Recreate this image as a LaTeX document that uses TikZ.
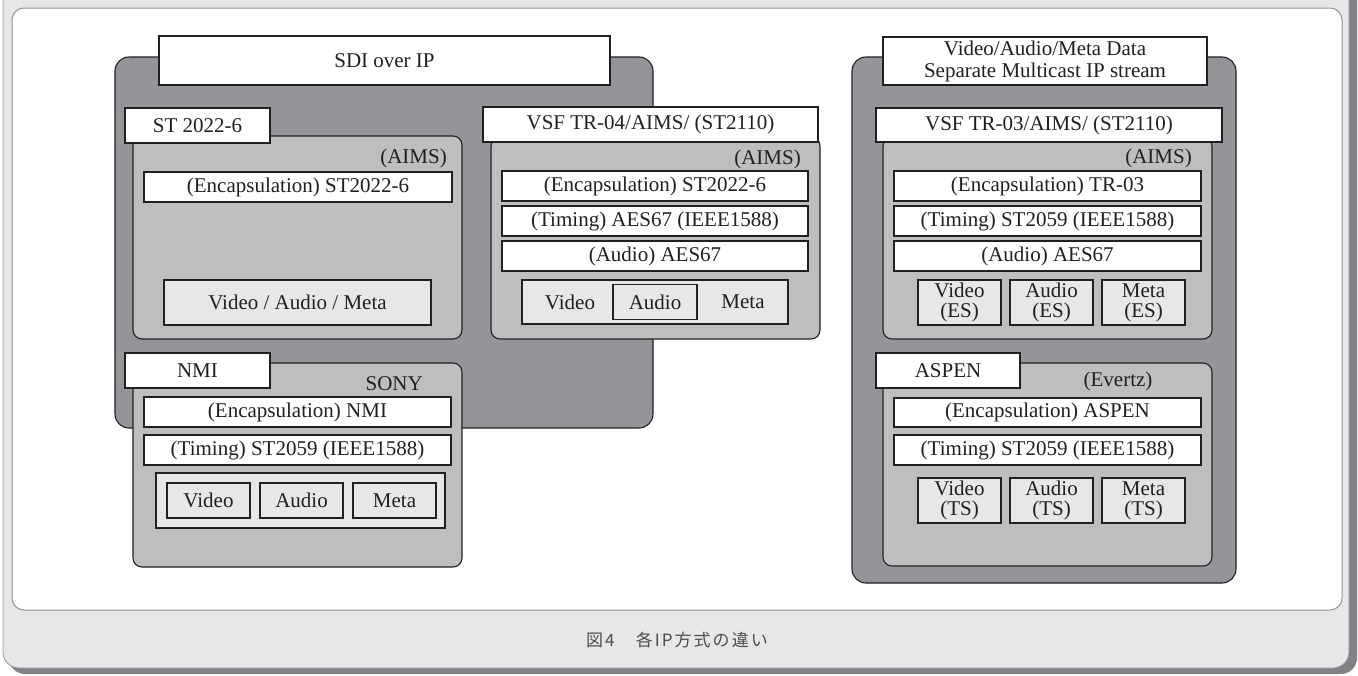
\documentclass[tikz,border=0pt]{standalone}
\usepackage{fontspec}
\setmainfont{Liberation Serif}
\newfontfamily\jpfont[LetterSpace=12]{Noto Sans CJK JP}
\usepackage{xcolor}
\usepackage{tikz}
\usetikzlibrary{positioning}

\definecolor{framegray}{HTML}{E6E7E8}
\definecolor{shadowgray}{HTML}{808285}
\definecolor{rimgray}{HTML}{939598}
\definecolor{darkfill}{HTML}{939598}
\definecolor{midfill}{HTML}{BCBEC0}
\definecolor{lightfill}{HTML}{E6E7E8}
\definecolor{inkline}{HTML}{231F20}
\definecolor{capgray}{HTML}{4D4D4F}

\tikzset{
  box/.style={draw=inkline, line width=1.1pt, inner sep=0pt, outer sep=0pt,
    anchor=north west, text=inkline, font=\fontsize{21}{20}\selectfont},
  groupbox/.style={box, fill=darkfill, rounded corners=14pt},
  layerbox/.style={box, fill=midfill, rounded corners=9pt},
  tabbox/.style={box, fill=white},
  rowbox/.style={box, fill=white, minimum width=307pt, minimum height=30pt},
  itembox/.style={box, fill=lightfill},
  esbox/.style={itembox, minimum width=83pt, minimum height=45pt, align=center},
  tag/.style={inner sep=0pt, text=inkline, font=\fontsize{21}{20}\selectfont},
}

\begin{document}
\begin{tikzpicture}[x=1pt, y=-1pt]
  \useasboundingbox (0,0) rectangle (1358,675);
  \clip (0,0) rectangle (1358,675);
  % frame
  \fill[shadowgray, rounded corners=16pt] (9,-30) rectangle (1357,674);
  \filldraw[fill=framegray, draw=rimgray, line width=0.8pt, rounded corners=16pt] (3,-30) rectangle (1349,668);
  \filldraw[fill=white, draw=rimgray, line width=1pt, rounded corners=12pt] (12,8) rectangle (1342,610);
  \node[text=capgray, font=\jpfont\fontsize{17}{20}\selectfont] (cap) at (677,640) {図4　各IP方式の違い};

  % SDI over IP
  \node[groupbox, minimum width=538pt, minimum height=371pt] (sdi) at (115,57) {};
  \node[tabbox, minimum width=451pt, minimum height=49pt] (sdiname) at (159,36) {SDI over IP};

  \node[layerbox, minimum width=329pt, minimum height=203pt] (st) at (133,136) {};
  \node[tabbox, minimum width=145pt, minimum height=35pt] (stname) at (125,108) {ST 2022-6};
  \node[tag, anchor=east] (staims) at (447,158) {(AIMS)};
  \node[rowbox, minimum width=308pt] (stenc) at (144,172) {(Encapsulation) ST2022-6};
  \node[itembox, minimum width=267pt, minimum height=45pt] (stvam) at (164,280) {Video / Audio / Meta};

  \node[layerbox, minimum width=329pt, minimum height=202pt] (tr4) at (491,137) {};
  \node[tabbox, minimum width=335pt, minimum height=35pt] (tr4name) at (483,107) {VSF TR-04/AIMS/ (ST2110)};
  \node[tag, anchor=east] (tr4aims) at (801,159) {(AIMS)};
  \node[rowbox, minimum width=306pt] (tr4enc) at (502,171) {(Encapsulation) ST2022-6};
  \node[rowbox, minimum width=306pt, below=5pt of tr4enc] (tr4tim) {(Timing) AES67 (IEEE1588)};
  \node[rowbox, minimum width=306pt, below=5pt of tr4tim] (tr4aud) {(Audio) AES67};
  \node[itembox, minimum width=266pt, minimum height=44pt] (tr4ess) at (522,280) {};
  \node[itembox, anchor=center, minimum width=84pt, minimum height=35pt] (tr4a) at (tr4ess.center) {Audio};
  \node[tag] (tr4v) at (570,302) {Video};
  \node[tag] (tr4m) at (743,302) {Meta};

  \node[layerbox, minimum width=329pt, minimum height=204pt] (nmi) at (133,363) {};
  \node[tabbox, minimum width=145pt, minimum height=35pt] (nminame) at (125,353) {NMI};
  \node[tag, anchor=east] (nmisony) at (423,384) {SONY};
  \node[rowbox] (nmienc) at (144,397) {(Encapsulation) NMI};
  \node[rowbox, below=8pt of nmienc] (nmitim) {(Timing) ST2059 (IEEE1588)};
  \node[itembox, minimum width=289pt, minimum height=55pt] (nmiess) at (156,473) {};
  \node[itembox, minimum width=83pt, minimum height=35pt] (nmiv) at (167,483) {Video};
  \node[itembox, minimum width=83pt, minimum height=35pt, right=10pt of nmiv] (nmia) {Audio};
  \node[itembox, minimum width=83pt, minimum height=35pt, right=10pt of nmia] (nmim) {Meta};

  % separate streams
  \node[groupbox, minimum width=384pt, minimum height=526pt] (sep) at (852,57) {};
  \node[tabbox, minimum width=324pt, minimum height=48pt, align=center,
    font=\fontsize{21}{22}\selectfont] (sepname) at (883,37)
    {Video/Audio/Meta Data\\Separate Multicast IP stream};

  \node[layerbox, minimum width=329pt, minimum height=202pt] (tr3) at (883,137) {};
  \node[tabbox, minimum width=346pt, minimum height=34pt] (tr3name) at (876,108) {VSF TR-03/AIMS/ (ST2110)};
  \node[tag, anchor=east] (tr3aims) at (1192,158) {(AIMS)};
  \node[rowbox] (tr3enc) at (894,171) {(Encapsulation) TR-03};
  \node[rowbox, below=5pt of tr3enc] (tr3tim) {(Timing) ST2059 (IEEE1588)};
  \node[rowbox, below=5pt of tr3tim] (tr3aud) {(Audio) AES67};
  \node[esbox] (tr3v) at (918,280) {Video\\(ES)};
  \node[esbox, right=9pt of tr3v] (tr3a) {Audio\\(ES)};
  \node[esbox, right=9pt of tr3a] (tr3m) {Meta\\(ES)};

  \node[layerbox, minimum width=329pt, minimum height=203pt] (asp) at (883,363) {};
  \node[tabbox, minimum width=144pt, minimum height=35pt] (aspname) at (876,353) {ASPEN};
  \node[tag] (aspevz) at (1118,381) {(Evertz)};
  \node[rowbox, minimum height=29pt] (aspenc) at (894,398) {(Encapsulation) ASPEN};
  \node[rowbox, below=8pt of aspenc] (asptim) {(Timing) ST2059 (IEEE1588)};
  \node[esbox] (aspv) at (918,478) {Video\\(TS)};
  \node[esbox, right=9pt of aspv] (aspa) {Audio\\(TS)};
  \node[esbox, right=9pt of aspa] (aspm) {Meta\\(TS)};
\end{tikzpicture}
\end{document}
